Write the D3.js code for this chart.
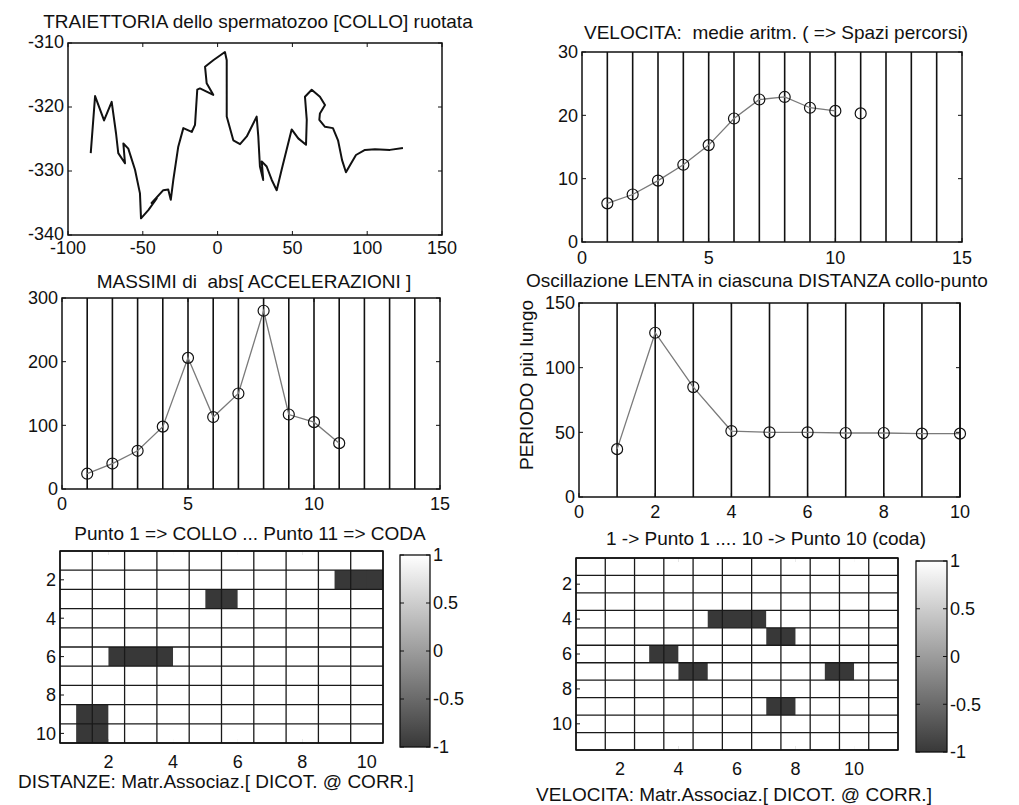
<!DOCTYPE html>
<html>
<head>
<meta charset="utf-8">
<script src="https://cdn.jsdelivr.net/npm/d3@7"></script>
<style>
  body { margin: 0; background: #fff; }
  text { font-family: 'Liberation Sans', Arial, sans-serif; fill: #111; white-space: pre; }
</style>
</head>
<body>
<div id="chart"></div>
<script>
// trajectory of the neck point (rotated)
const trajX = [-84.8, -81.9, -75.9, -70.8, -67.9, -66.4, -61.9, -63.0, -59.7, -55.2, -51.9, -51.2, -46.3, -40.7, -44.1,
    -36.3, -33.0, -31.3, -29.6, -26.3, -22.9, -17.3, -15.1, -13.6, -11.8, -2.9, -7.3, -8.4, -2.9, 4.9, 6.1, 6.1, 10.5,
    15.0, 19.5, 26.1, 27.2, 28.3, 30.5, 29.5, 32.8, 36.2, 39.5, 42.8, 49.5, 53.9, 59.1, 59.6, 58.4, 62.9, 68.4, 71.8,
    68.4, 68.0, 71.8, 77.1, 80.5, 83.2, 85.8, 88.5, 92.5, 98.5, 105.2, 115.2, 123.9];
const trajY = [-327.2, -318.3, -322.1, -319.2, -324.1, -327.2, -328.8, -325.7, -326.5, -329.8, -333.5, -337.4, -336.1,
    -334.3, -335.0, -333.0, -332.9, -334.5, -331.4, -326.2, -323.3, -323.9, -322.8, -317.3, -317.1, -318.1, -316.3,
    -313.7, -312.7, -311.4, -312.7, -321.5, -325.2, -325.8, -324.6, -321.5, -324.6, -329.3, -331.4, -328.5, -329.3,
    -331.4, -333.0, -329.8, -323.5, -324.9, -325.9, -322.0, -318.4, -317.3, -318.4, -319.7, -321.0, -322.0, -323.1,
    -323.3, -325.2, -328.3, -330.2, -329.1, -327.5, -326.7, -326.6, -326.7, -326.4];

// points along the tail
const puntiVel = [1, 2, 3, 4, 5, 6, 7, 8, 9, 10, 11];
const velocita = [6.1, 7.5, 9.7, 12.2, 15.3, 19.5, 22.5, 22.9, 21.2, 20.7, 20.3];
const velLinked = 10; // the line stops at point 10
const accMax = [24, 40, 60, 98, 206, 113, 150, 280, 117, 105, 72];
const puntiDist = [1, 2, 3, 4, 5, 6, 7, 8, 9, 10];
const periodo = [37, 127, 85, 51, 50, 50, 49.5, 49.5, 49, 49];

const gridLines15 = [1, 2, 3, 4, 5, 6, 7, 8, 9, 10, 11, 12, 13, 14];
const gridLines10 = [1, 2, 3, 4, 5, 6, 7, 8, 9, 10];

// association matrices (1 = white, -1 = dark)
const matDistanze = [
    [1, 1, 1, 1, 1, 1, 1, 1, 1, 1],
    [1, 1, 1, 1, 1, 1, 1, 1, -1, -1],
    [1, 1, 1, 1, -1, 1, 1, 1, 1, 1],
    [1, 1, 1, 1, 1, 1, 1, 1, 1, 1],
    [1, 1, 1, 1, 1, 1, 1, 1, 1, 1],
    [1, -1, -1, 1, 1, 1, 1, 1, 1, 1],
    [1, 1, 1, 1, 1, 1, 1, 1, 1, 1],
    [1, 1, 1, 1, 1, 1, 1, 1, 1, 1],
    [-1, 1, 1, 1, 1, 1, 1, 1, 1, 1],
    [-1, 1, 1, 1, 1, 1, 1, 1, 1, 1]
];
const matVelocita = [
    [1, 1, 1, 1, 1, 1, 1, 1, 1, 1, 1],
    [1, 1, 1, 1, 1, 1, 1, 1, 1, 1, 1],
    [1, 1, 1, 1, 1, 1, 1, 1, 1, 1, 1],
    [1, 1, 1, 1, -1, -1, 1, 1, 1, 1, 1],
    [1, 1, 1, 1, 1, 1, -1, 1, 1, 1, 1],
    [1, 1, -1, 1, 1, 1, 1, 1, 1, 1, 1],
    [1, 1, 1, -1, 1, 1, 1, 1, -1, 1, 1],
    [1, 1, 1, 1, 1, 1, 1, 1, 1, 1, 1],
    [1, 1, 1, 1, 1, 1, -1, 1, 1, 1, 1],
    [1, 1, 1, 1, 1, 1, 1, 1, 1, 1, 1],
    [1, 1, 1, 1, 1, 1, 1, 1, 1, 1, 1]
];
const matTicks = [2, 4, 6, 8, 10];
const cbTicks = [-1, -0.5, 0, 0.5, 1];

const W = 1019, H = 805;
const svg = d3.select('#chart').append('svg')
    .attr('width', W).attr('height', H);
svg.append('rect').attr('width', W).attr('height', H).attr('fill', '#fff');

const grey = d3.scaleLinear().domain([-1, 1]).range(['#383838', '#ffffff']);

function label(x, y, txt, opts = {}) {
    const t = svg.append('text')
        .attr('x', x).attr('y', y)
        .attr('font-size', opts.size || 18)
        .attr('text-anchor', opts.anchor || 'middle')
        .text(txt);
    if (opts.dy) t.attr('dy', opts.dy);
    if (opts.rotate) t.attr('transform', `rotate(-90, ${x}, ${y})`);
    return t;
}

// builds a MATLAB-like boxed axes with inward ticks
function makeAxes(box, xDom, yDom, xTicks, yTicks, xLabOff, yReverse, yLabDy) {
    const x = d3.scaleLinear().domain(xDom).range([box.x0, box.x1]);
    const y = d3.scaleLinear().domain(yDom).range(yReverse ? [box.y0, box.y1] : [box.y1, box.y0]);
    const g = svg.append('g');
    const tl = 4;
    g.selectAll('.xt').data(xTicks).enter().append('path')
        .attr('d', d => `M${x(d)},${box.y1}v${-tl}M${x(d)},${box.y0}v${tl}`)
        .attr('stroke', '#111').attr('stroke-width', 1);
    g.selectAll('.yt').data(yTicks).enter().append('path')
        .attr('d', d => `M${box.x0},${y(d)}h${tl}M${box.x1},${y(d)}h${-tl}`)
        .attr('stroke', '#111').attr('stroke-width', 1);
    xTicks.forEach(d => label(x(d), box.y1 + xLabOff, String(d)));
    yTicks.forEach(d => label(box.x0 - 4, y(d), String(d), { anchor: 'end', dy: yLabDy || '0.35em' }));
    return { x, y, g, box };
}

function drawBox(ax) {
    const b = ax.box;
    svg.append('rect')
        .attr('x', b.x0).attr('y', b.y0)
        .attr('width', b.x1 - b.x0).attr('height', b.y1 - b.y0)
        .attr('fill', 'none').attr('stroke', '#111').attr('stroke-width', 1.5);
}

function vGrid(ax, xs) {
    ax.g.selectAll('.vg').data(xs).enter().append('line')
        .attr('x1', d => ax.x(d)).attr('x2', d => ax.x(d))
        .attr('y1', ax.box.y0).attr('y2', ax.box.y1)
        .attr('stroke', '#111').attr('stroke-width', 1.6);
}

function lineWithMarkers(ax, xs, ys, linkedCount) {
    const pts = xs.map((d, i) => [d, ys[i]]);
    const line = d3.line().x(d => ax.x(d[0])).y(d => ax.y(d[1]));
    ax.g.append('path')
        .attr('d', line(pts.slice(0, linkedCount || pts.length)))
        .attr('fill', 'none').attr('stroke', '#7a7a7a').attr('stroke-width', 1.3);
    ax.g.selectAll('.mk').data(pts).enter().append('circle')
        .attr('cx', d => ax.x(d[0])).attr('cy', d => ax.y(d[1]))
        .attr('r', 5.5)
        .attr('fill', 'none').attr('stroke', '#111').attr('stroke-width', 1.2);
}

// --- 1: trajectory
const ax1 = makeAxes({ x0: 68, x1: 442, y0: 43, y1: 235 }, [-100, 150], [-340, -310],
    [-100, -50, 0, 50, 100, 150], [-340, -330, -320, -310], 19, false, '0.28em');
ax1.g.append('path')
    .attr('d', d3.line().x(d => ax1.x(d[0])).y(d => ax1.y(d[1]))(trajX.map((d, i) => [d, trajY[i]])))
    .attr('fill', 'none').attr('stroke', '#111').attr('stroke-width', 2)
    .attr('stroke-linejoin', 'round');
drawBox(ax1);
label(258, 28, 'TRAIETTORIA dello spermatozoo [COLLO] ruotata', { size: 19 });

// --- 2: velocity
const ax2 = makeAxes({ x0: 582, x1: 962, y0: 52, y1: 242 }, [0, 15], [0, 30],
    [0, 5, 10, 15], [0, 10, 20, 30], 22);
vGrid(ax2, gridLines15);
lineWithMarkers(ax2, puntiVel, velocita, velLinked);
drawBox(ax2);
label(776, 39, 'VELOCITA:  medie aritm. ( => Spazi percorsi)', { size: 19 });

// --- 3: max accelerations
const ax3 = makeAxes({ x0: 62, x1: 440, y0: 298, y1: 489 }, [0, 15], [0, 300],
    [0, 5, 10, 15], [0, 100, 200, 300], 21);
vGrid(ax3, gridLines15);
lineWithMarkers(ax3, puntiVel, accMax);
drawBox(ax3);
label(254, 288, 'MASSIMI di  abs[ ACCELERAZIONI ]', { size: 19 });
label(250, 540, 'Punto 1 => COLLO ... Punto 11 => CODA', { size: 19 });

// --- 4: slow oscillation period
const ax4 = makeAxes({ x0: 579, x1: 960, y0: 303, y1: 497 }, [0, 10], [0, 150],
    [0, 2, 4, 6, 8, 10], [0, 50, 100, 150], 21);
vGrid(ax4, gridLines10);
lineWithMarkers(ax4, puntiDist, periodo);
drawBox(ax4);
label(757, 287, 'Oscillazione LENTA in ciascuna DISTANZA collo-punto', { size: 19 });
label(766, 545, '1 -> Punto 1 .... 10 -> Punto 10 (coda)', { size: 19 });
label(526, 385, 'PERIODO più lungo', { size: 19, rotate: true, dy: '0.35em' });

// --- 5/6: association matrices with colorbars
// in the scan the image sits half a cell to the right of the grid
const IMG_SHIFT = 0.5;

function drawMatrix(box, mat, xlab, labX, labY, cb) {
    const n = mat.length;
    const ax = makeAxes(box, [0.5, n + 0.5], [0.5, n + 0.5], matTicks, matTicks, 25, true);
    const clipId = 'clip' + box.x0;
    svg.append('clipPath').attr('id', clipId).append('rect')
        .attr('x', box.x0).attr('y', box.y0)
        .attr('width', box.x1 - box.x0).attr('height', box.y1 - box.y0);
    const cells = [];
    mat.forEach((row, r) => row.forEach((v, c) => cells.push({ r: r + 1, c: c + 1, v })));
    const cg = svg.append('g').attr('clip-path', `url(#${clipId})`);
    cg.selectAll('rect').data(cells).enter().append('rect')
        .attr('x', d => ax.x(d.c - 0.5 + IMG_SHIFT))
        .attr('y', d => ax.y(d.r - 0.5))
        .attr('width', ax.x(1.5) - ax.x(0.5) + 0.3)
        .attr('height', ax.y(1.5) - ax.y(0.5) + 0.3)
        .attr('fill', d => grey(d.v));
    const edges = d3.range(0.5, n + 1, 1);
    const gg = svg.append('g').attr('stroke', '#1a1a1a').attr('stroke-width', 1.3);
    gg.selectAll('.gv').data(edges).enter().append('line')
        .attr('x1', d => ax.x(d)).attr('x2', d => ax.x(d))
        .attr('y1', box.y0).attr('y2', box.y1);
    gg.selectAll('.gh').data(edges).enter().append('line')
        .attr('y1', d => ax.y(d)).attr('y2', d => ax.y(d))
        .attr('x1', box.x0).attr('x2', box.x1);
    drawBox(ax);
    label(labX, labY, xlab, { size: 19 });

    // colorbar
    const gradId = 'grad' + box.x0;
    const grad = svg.append('defs').append('linearGradient').attr('id', gradId)
        .attr('x1', 0).attr('y1', 1).attr('x2', 0).attr('y2', 0);
    grad.selectAll('stop').data(cbTicks).enter().append('stop')
        .attr('offset', d => (d + 1) / 2)
        .attr('stop-color', d => grey(d));
    const cy = d3.scaleLinear().domain([-1, 1]).range([cb.y1, cb.y0]);
    svg.append('rect')
        .attr('x', cb.x0).attr('y', cb.y0)
        .attr('width', cb.x1 - cb.x0).attr('height', cb.y1 - cb.y0)
        .attr('fill', `url(#${gradId})`).attr('stroke', '#111').attr('stroke-width', 1.3);
    svg.append('g').selectAll('path').data(cbTicks).enter().append('path')
        .attr('d', d => `M${cb.x1},${cy(d)}h-4M${cb.x0},${cy(d)}h4`)
        .attr('stroke', '#111');
    cbTicks.forEach(d => label(cb.x1 + 3, cy(d), String(d), { anchor: 'start', dy: '0.35em' }));
}

drawMatrix({ x0: 60, x1: 383, y0: 551, y1: 743 }, matDistanze,
    'DISTANZE: Matr.Associaz.[ DICOT. @ CORR.]', 216, 788,
    { x0: 400, x1: 430, y0: 555, y1: 747 });
drawMatrix({ x0: 576, x1: 898, y0: 558, y1: 750 }, matVelocita,
    'VELOCITA: Matr.Associaz.[ DICOT. @ CORR.]', 734, 801,
    { x0: 916, x1: 947, y0: 561, y1: 752 });
</script>
</body>
</html>
